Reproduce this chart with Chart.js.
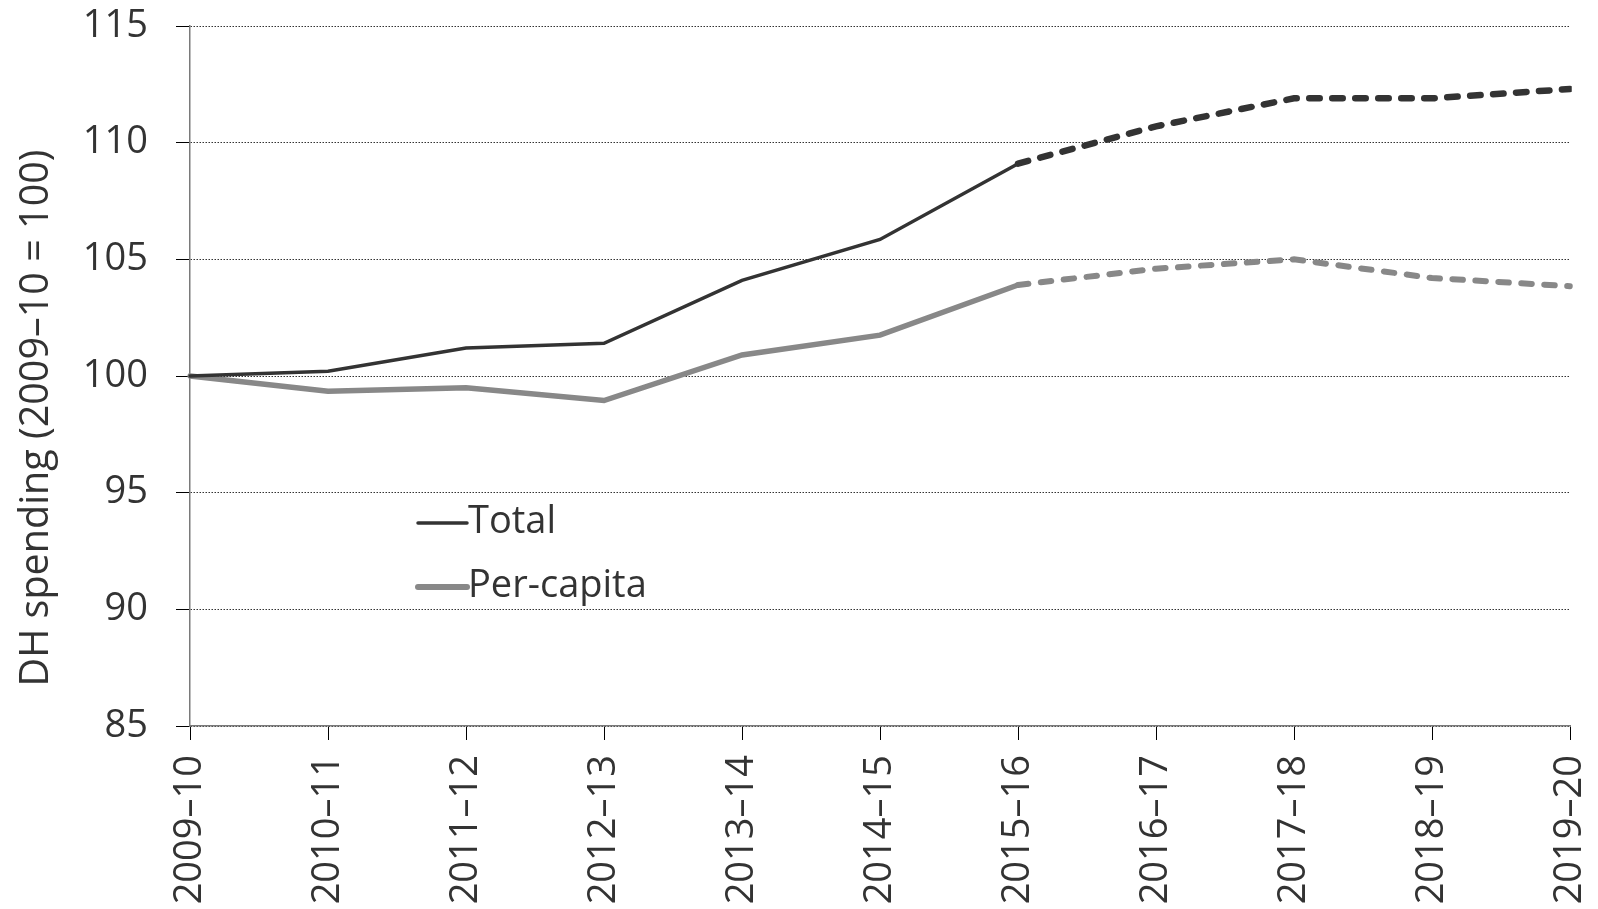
<!DOCTYPE html>
<html>
<head>
<meta charset="utf-8">
<script src="https://cdn.jsdelivr.net/npm/chart.js@4"></script>
<style>
  html, body { margin: 0; padding: 0; background: #fff; }
  #wrap { width: 1598px; height: 909px; position: relative; }
</style>
</head>
<body>
<div id="wrap"><canvas id="chart"></canvas></div>
<script>
YEARS = ["2009–10", "2010–11", "2011–12", "2012–13", "2013–14", "2014–15",
         "2015–16", "2016–17", "2017–18", "2018–19", "2019–20"]
TOTAL = [100, 100.2, 101.2, 101.4, 104.1, 105.85, 109.1, 110.7, 111.9, 111.9, 112.3]
PER_CAPITA = [100, 99.35, 99.5, 98.95, 100.9, 101.75, 103.9, 104.6, 105.0, 104.2, 103.85]
Y_TICKS = [85, 90, 95, 100, 105, 110, 115]
Y_TITLE = "DH spending (2009–10 = 100)"
PLANS_FROM = 6 // index of 2015-16, dashed after this

FONT = "'Open Sans', 'Noto Sans', sans-serif"
TEXT = "#333333"

function dashedAfter(ctx, val, other)
{
    return ctx.p0DataIndex >= PLANS_FROM ? val : other
}

// legend drawn inside the plot area + y title placed a bit lower than centre
var extras = {
    id: "extras",
    afterDatasetsDraw(chart) {
        var c = chart.ctx
        var a = chart.chartArea
        var items = [
            {label: "Total", color: "#333333", width: 3.5, y: a.top + 497},
            {label: "Per-capita", color: "#888888", width: 6, y: a.top + 561}
        ]
        c.save()
        c.font = "38px " + FONT
        c.textBaseline = "middle"
        c.fillStyle = TEXT
        items.forEach(function(it) {
            c.beginPath()
            c.strokeStyle = it.color
            c.lineWidth = it.width
            c.lineCap = "round"
            c.moveTo(a.left + 228, it.y)
            c.lineTo(a.left + 277, it.y)
            c.stroke()
            c.fillText(it.label, a.left + 278, it.y - 1)
        })

        c.translate(37, (a.top + a.bottom) / 2 + 42)
        c.rotate(-Math.PI / 2)
        c.font = "39.5px " + FONT
        c.textAlign = "center"
        c.fillText(Y_TITLE, 0, 0)
        c.restore()
    }
}

new Chart(document.getElementById("chart"), {
    type: "line",
    data: {
        labels: YEARS,
        datasets: [
            {
                label: "Total",
                data: TOTAL,
                borderColor: "#333333",
                borderWidth: 3.5,
                pointRadius: 0,
                tension: 0,
                borderCapStyle: "round",
                segment: {
                    borderDash: ctx => dashedAfter(ctx, [10.5, 12.5], undefined),
                    borderWidth: ctx => dashedAfter(ctx, 6.5, undefined)
                }
            },
            {
                label: "Per-capita",
                data: PER_CAPITA,
                borderColor: "#888888",
                borderWidth: 5.5,
                pointRadius: 0,
                tension: 0,
                borderCapStyle: "round",
                segment: {
                    borderDash: ctx => dashedAfter(ctx, [10.5, 12.5], undefined),
                    borderWidth: ctx => dashedAfter(ctx, 6, undefined)
                }
            }
        ]
    },
    options: {
        responsive: true,
        maintainAspectRatio: false,
        animation: false,
        layout: { padding: { top: 26, right: 28, left: 0, bottom: 0 } },
        plugins: {
            legend: { display: false },
            tooltip: { enabled: false }
        },
        scales: {
            x: {
                afterFit(scale) {
                    scale.height = 183
                    scale.paddingLeft = 0
                    scale.paddingRight = 0
                },
                grid: {
                    display: true,
                    drawOnChartArea: false,
                    drawTicks: true,
                    tickLength: 14,
                    tickColor: "#000000",
                    offset: false
                },
                border: { display: true, color: "#7a7a7a", width: 1.5 },
                ticks: {
                    color: TEXT,
                    font: { family: FONT, size: 38 },
                    maxRotation: 90,
                    minRotation: 90,
                    padding: 15,
                    autoSkip: false
                }
            },
            y: {
                min: 85,
                max: 115,
                afterFit(scale) {
                    scale.width = 190
                    scale.paddingTop = 0
                    scale.paddingBottom = 0
                },
                afterBuildTicks(scale) { scale.ticks = Y_TICKS.map(v => ({value: v})) },
                grid: {
                    color: "#333333",
                    lineWidth: 1,
                    drawTicks: true,
                    tickLength: 14,
                    tickColor: "#000000",
                    tickBorderDash: []
                },
                border: { display: true, color: "#7a7a7a", width: 1.5, dash: [1.5, 1.5] },
                ticks: {
                    color: TEXT,
                    font: { family: FONT, size: 38 },
                    padding: 28
                },
                title: { display: false }
            }
        }
    },
    plugins: [extras]
});
</script>
</body>
</html>
